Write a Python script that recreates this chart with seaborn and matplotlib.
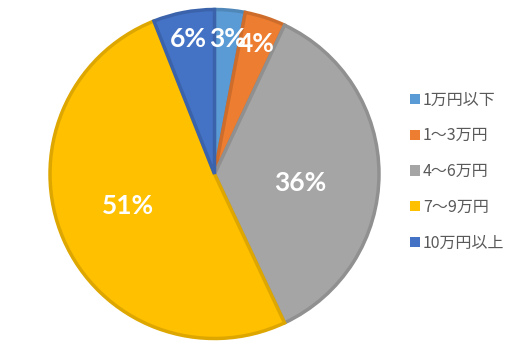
import numpy as np
import matplotlib
matplotlib.use("Agg")
import matplotlib.pyplot as plt
from matplotlib.patches import Patch
import seaborn as sns

categories = ["1万円以下", "1〜3万円", "4〜6万円", "7〜9万円", "10万円以上"]
values = [3, 4, 36, 51, 6]
colors = ["#5B9BD5", "#ED7D31", "#A5A5A5", "#FFC000", "#4472C4"]
label_dist = [0.81, 0.82, 0.515, 0.555, 0.82]
label_shift = [0, 0, -6, -3, 0]

sns.set_theme(style="white")
plt.rcParams['font.family'] = ['Noto Sans CJK JP', 'DejaVu Sans']

W, H = 522, 357
fig = plt.figure(figsize=(W / 100, H / 100), dpi=100)
cx, cy, r = 214.5, 174, 167
ax = fig.add_axes([(cx - r) / W, (H - cy - r) / H, 2 * r / W, 2 * r / H])

palette = sns.color_palette(colors)
edges = [tuple(np.array(c) * 0.87) for c in palette]
wedges, _ = ax.pie(values, colors=palette, startangle=90, counterclock=False,
                   radius=0.985,
                   wedgeprops=dict(linewidth=2.5, edgecolor="none"))
for w, e in zip(wedges, edges):
    w.set_edgecolor(e)
    w.set_joinstyle("miter")

for w, v, d, s in zip(wedges, values, label_dist, label_shift):
    ang = np.deg2rad((w.theta1 + w.theta2) / 2 + s)
    ax.text(d * np.cos(ang), d * np.sin(ang), f"{v}%", ha="center", va="center",
            color="white", fontsize=19, fontweight="bold", family=["Lato", "DejaVu Sans"])

ax.set_xlim(-1, 1)
ax.set_ylim(-1, 1)
ax.set_aspect("equal")
ax.axis("off")

handles = [Patch(facecolor=c, edgecolor="none") for c in palette]
leg = fig.legend(handles, categories, loc="center left", bbox_to_anchor=(410 / W, 1 - 171.5 / H),
                 frameon=False, fontsize=11.5, labelspacing=1.17, handlelength=0.62,
                 handleheight=0.62, handletextpad=0.2, borderpad=0, borderaxespad=0)
for t in leg.get_texts():
    t.set_color("#595959")

fig.savefig("out.png", dpi=100, facecolor="white")
